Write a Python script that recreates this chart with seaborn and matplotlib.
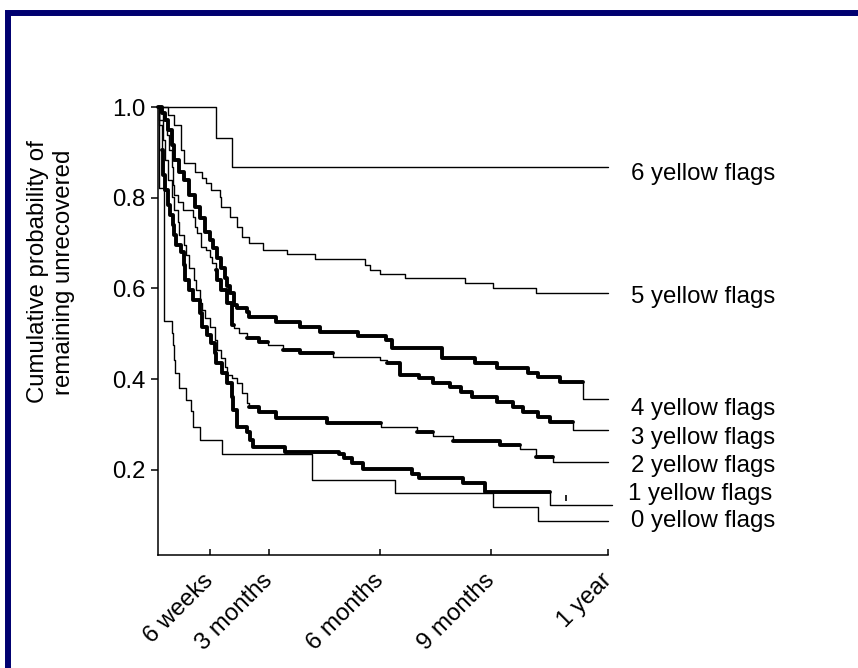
import numpy as np
import matplotlib
matplotlib.use('Agg')
import matplotlib.pyplot as plt
import seaborn as sns
from matplotlib.patches import Rectangle

sns.set_style('white')
plt.rcParams['font.family'] = ['Liberation Sans', 'DejaVu Sans']
plt.rcParams['text.color'] = 'black'
plt.rcParams['xtick.color'] = 'black'
plt.rcParams['ytick.color'] = 'black'
plt.rcParams['axes.labelcolor'] = 'black'

# days since start / cumulative probability of remaining unrecovered
days_6 = [0, 47, 60, 365]
surv_6 = [1.0, 0.932, 0.868, 0.868]

days_5 = [0, 8, 13, 19, 21, 30, 36, 39, 43, 50, 51, 58, 64, 68, 74, 85, 105, 127,
          168, 172, 180, 200, 249, 272, 307, 365]
surv_5 = [1.0, .982, .960, .905, .877, .857, .844, .833, .817, .802, .780, .758, .736,
          .713, .700, .685, .676, .665, .652, .641, .632, .623, .612, .601, .590, .590]

days_4 = [0, 3, 6, 8, 11, 13, 17, 21, 25, 30, 34, 38, 42, 45, 48, 51, 54, 56, 58, 62,
          64, 72, 74, 96, 115, 131, 162, 185, 190, 230, 257, 275, 300, 308, 326, 345, 365]
surv_4 = [1.0, .987, .971, .949, .916, .883, .857, .839, .806, .780, .755, .725, .707,
          .689, .667, .645, .623, .606, .590, .564, .557, .548, .537, .526, .515, .504,
          .495, .487, .469, .447, .436, .425, .414, .405, .394, .356, .356]

days_3 = [0, 2, 4, 7, 9, 11, 12, 13, 16, 20, 28, 30, 32, 35, 39, 42, 44, 47, 48, 51,
          56, 60, 62, 66, 72, 82, 89, 101, 115, 142, 180, 186, 196, 212, 223, 237, 246,
          255, 275, 288, 296, 308, 318, 337, 365]
surv_3 = [1.0, .989, .971, .938, .905, .868, .828, .806, .791, .773, .758, .736, .722,
          .691, .685, .669, .656, .641, .619, .597, .568, .520, .513, .502, .491, .482,
          .475, .464, .458, .449, .442, .436, .409, .403, .392, .383, .372, .361, .350,
          .339, .328, .317, .306, .288, .288]

days_2 = [0, 1, 4, 6, 8, 11, 13, 16, 17, 21, 23, 25, 29, 31, 34, 36, 38, 42, 46, 48,
          51, 54, 56, 60, 64, 68, 72, 74, 82, 96, 137, 181, 210, 223, 239, 277, 294, 307,
          320, 365]
surv_2 = [1.0, .971, .927, .883, .839, .802, .773, .747, .718, .696, .674, .645, .619,
          .597, .568, .553, .535, .515, .487, .464, .447, .427, .409, .403, .392, .370,
          .348, .339, .328, .315, .304, .295, .284, .275, .264, .255, .246, .229, .218, .218]

days_1 = [0, 1, 3, 4, 6, 8, 10, 12, 13, 15, 19, 21, 22, 25, 28, 34, 36, 40, 43, 46,
          47, 52, 56, 60, 61, 64, 72, 75, 77, 103, 147, 151, 157, 166, 206, 212, 247, 265,
          318, 368]
surv_1 = [1.0, .960, .905, .850, .817, .784, .762, .740, .718, .696, .680, .652, .619,
          .597, .575, .546, .515, .498, .480, .458, .436, .414, .392, .361, .332, .295,
          .284, .266, .251, .240, .235, .226, .215, .202, .191, .182, .171, .152, .123, .123]
censor_1_day = [331]
censor_1_surv = [0.138]

days_0 = [0, 1, 5, 11, 12, 13, 14, 17, 23, 27, 28, 34, 52, 125, 192, 272, 308, 365]
surv_0 = [1.0, .821, .528, .502, .475, .442, .414, .381, .354, .330, .295, .266, .235,
          .178, .149, .118, .088, .088]

# stretches drawn heavier (dense censor marks in the original)
thick_4 = [(0, 345)]
thick_3 = [(47, 62), (72, 89), (101, 142), (186, 337)]
thick_2 = [(74, 181), (210, 223), (239, 294), (307, 320)]
thick_1 = [(3, 318)]

labels = ['6 yellow flags', '5 yellow flags', '4 yellow flags', '3 yellow flags',
          '2 yellow flags', '1 yellow flags', '0 yellow flags']
label_y = [0.852, 0.581, 0.334, 0.271, 0.209, 0.147, 0.088]
label_x = [384, 384, 384, 384, 384, 381, 384]

tick_days = [42, 90, 180, 270, 365]
tick_names = ['6 weeks', '3 months', '6 months', '9 months', '1 year']

curves = [(days_6, surv_6, []), (days_5, surv_5, []), (days_4, surv_4, thick_4),
          (days_3, surv_3, thick_3), (days_2, surv_2, thick_2),
          (days_1, surv_1, thick_1), (days_0, surv_0, [])]


def piece(t, s, a, b):
    t = np.asarray(t, float)
    s = np.asarray(s, float)
    inner = (t > a) & (t < b)
    i0 = np.searchsorted(t, a, side='right') - 1
    i1 = np.searchsorted(t, b, side='left') - 1
    tt = np.concatenate([[a], t[inner], [b]])
    ss = np.concatenate([[s[i0]], s[inner], [s[i1]]])
    return tt, ss


fig = plt.figure(figsize=(8.58, 6.68), dpi=100)
ax = fig.add_axes([158 / 858, 113 / 668, 450 / 858, 448 / 668])

for t, s, thick in curves:
    sns.lineplot(x=t, y=s, drawstyle='steps-post', color='black', lw=1.0,
                 estimator=None, sort=False, ax=ax, clip_on=False)
    for a, b in thick:
        tt, ss = piece(t, s, a, b)
        sns.lineplot(x=tt, y=ss, drawstyle='steps-post', color='black', lw=2.8,
                     estimator=None, sort=False, ax=ax, clip_on=False)

ax.plot(censor_1_day, censor_1_surv, ls='none', marker='|', ms=5, mew=1.2,
        color='black', clip_on=False)

for x, y, lab in zip(label_x, label_y, labels):
    ax.text(x, y, lab, ha='left', va='center', fontsize=17.3, color='black',
            clip_on=False)

ax.set_xlim(0, 365)
ax.set_ylim(0.012, 1.0)
ax.set_yticks([0.2, 0.4, 0.6, 0.8, 1.0])
ax.set_yticklabels(['0.2', '0.4', '0.6', '0.8', '1.0'], fontsize=17.3)
ax.set_xticks(tick_days)
ax.set_xticklabels(tick_names, rotation=45, ha='right', va='center',
                   rotation_mode='anchor', fontsize=17.3)
ax.tick_params(axis='y', direction='out', length=5, width=1.1, pad=4, left=True,
               colors='black')
ax.tick_params(axis='x', direction='in', length=4, width=1.1, pad=16, bottom=True,
               colors='black')
sns.despine(ax=ax)
for sp in ['left', 'bottom']:
    ax.spines[sp].set_color('black')
    ax.spines[sp].set_linewidth(1.1)
ax.set_xlabel('')
ax.set_ylabel('')

fig.text(51 / 858, 1 - 272 / 668, 'Cumulative probability of\nremaining unrecovered',
         rotation=90, ha='center', va='center', fontsize=17.3, linespacing=1.2,
         color='black')

# navy frame, cut off at the right and bottom edges
fig.add_artist(Rectangle((7.5 / 858, -0.2), 2.0, 1.2 - 13 / 668, transform=fig.transFigure,
                         fill=False, lw=4.3, edgecolor='#000070'))

fig.savefig('out.png', dpi=100)
